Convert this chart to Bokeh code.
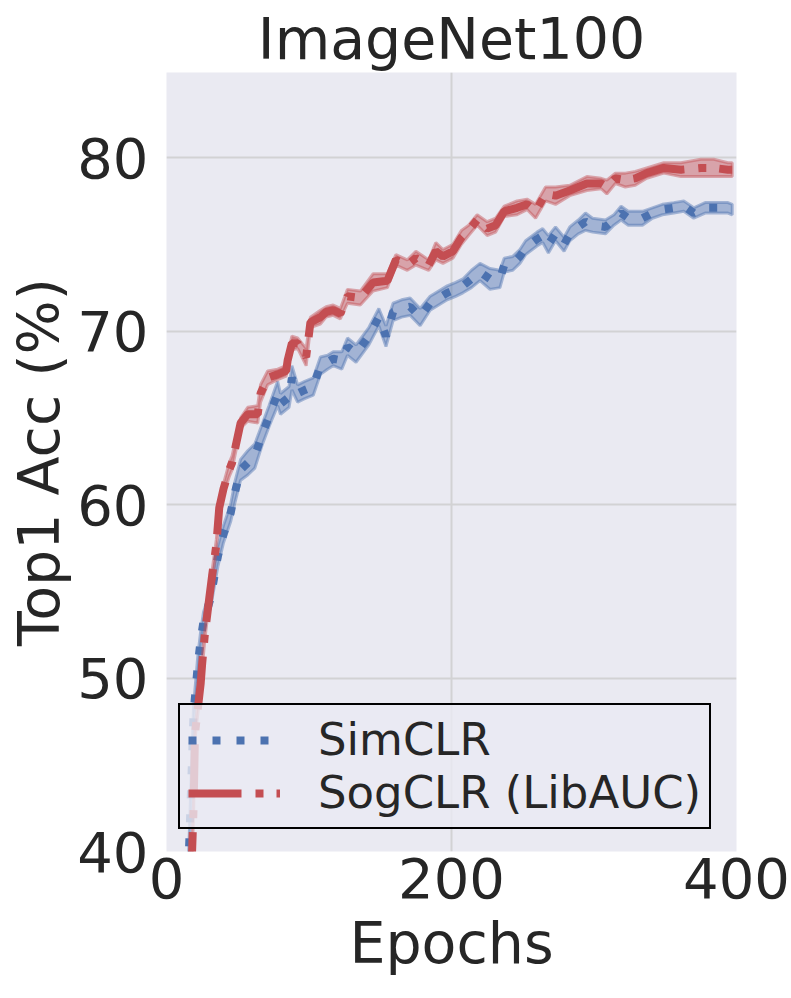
from bokeh.plotting import figure
from bokeh.models import Range1d, FixedTicker, Legend, LegendItem
from bokeh.embed import file_html
from bokeh.resources import INLINE

# ---- data ----
simclr_epochs = [12, 16, 19, 22, 24, 26, 31, 36, 40, 45, 48, 52, 57, 62, 67, 72, 78, 80, 86, 88,
                 92, 97, 103, 108, 113, 117, 123, 127, 133, 142, 149, 154, 159, 165, 171, 178, 185, 191, 197, 203,
                 208, 214, 220, 227, 234, 237, 243, 248, 252, 260, 264, 268, 273, 279, 283, 289, 294, 299, 308, 314,
                 319, 324, 334, 341, 348, 356, 363, 370, 378, 386, 394, 397]
simclr_acc = [32.0, 40.6, 48.0, 50.8, 52.2, 53.3, 54.6, 57.0, 58.3, 59.5,
              60.7, 62.0, 62.4, 62.8, 64.0, 65.1, 66.4, 65.8, 66.2, 67.3,
              66.4, 66.6, 66.8, 68.0, 68.2, 68.4, 68.3, 69.1, 68.7, 69.7,
              70.8, 69.7, 71.1, 71.3, 71.4, 70.8, 71.6, 71.9, 72.2, 72.4,
              72.6, 73.0, 73.4, 73.0, 73.0, 73.8, 73.9, 74.3, 74.8, 75.3,
              75.5, 75.0, 75.6, 75.0, 75.6, 76.0, 76.3, 76.1, 76.0, 76.4,
              76.8, 76.5, 76.5, 76.8, 77.0, 77.1, 77.2, 76.8, 77.1, 77.1,
              77.1, 77.0]
simclr_std = [0.4, 0.4, 0.4, 0.5, 0.5, 0.5, 0.5, 0.6, 0.5, 0.5,
              0.6, 0.6, 0.7, 0.7, 0.6, 0.6, 0.7, 0.6, 0.6, 0.7,
              0.5, 0.5, 0.5, 0.5, 0.4, 0.4, 0.5, 0.5, 0.5, 0.5,
              0.5, 0.6, 0.5, 0.5, 0.5, 0.5, 0.4, 0.4, 0.4, 0.4,
              0.4, 0.5, 0.5, 0.6, 0.5, 0.4, 0.4, 0.4, 0.4, 0.4,
              0.4, 0.5, 0.4, 0.4, 0.4, 0.4, 0.5, 0.4, 0.4, 0.3,
              0.4, 0.4, 0.4, 0.3, 0.3, 0.3, 0.3, 0.3, 0.3, 0.3,
              0.3, 0.3]

sogclr_epochs = [15, 19, 20, 24, 25, 27, 30, 32, 35, 37, 40, 44, 46, 52, 57, 64, 66, 71, 78, 84,
                 85, 88, 92, 98, 101, 108, 112, 117, 122, 127, 136, 145, 155, 161, 169, 175, 184, 189, 194, 201,
                 207, 212, 218, 225, 231, 237, 246, 253, 259, 266, 273, 283, 295, 305, 309, 315, 322, 329, 337, 349,
                 361, 375, 384, 394, 397]
sogclr_acc = [33.0, 42.5, 46.8, 49.7, 50.8, 52.6, 54.6, 55.9, 57.7, 59.8,
              60.9, 62.0, 62.4, 64.7, 65.2, 65.2, 66.4, 67.3, 67.5, 67.7,
              68.3, 69.3, 69.3, 68.5, 70.5, 70.8, 71.1, 71.2, 71.0, 72.0,
              71.9, 72.8, 72.9, 74.1, 73.8, 74.2, 73.8, 74.6, 74.3, 74.6,
              75.4, 75.8, 76.4, 75.9, 76.1, 76.9, 77.1, 77.3, 76.9, 77.9,
              77.8, 78.1, 78.5, 78.5, 78.3, 78.8, 78.7, 78.8, 79.1, 79.4,
              79.3, 79.4, 79.4, 79.3, 79.3]
sogclr_std = [0.3, 0.3, 0.3, 0.3, 0.3, 0.3, 0.3, 0.3, 0.3, 0.3,
              0.3, 0.4, 0.4, 0.3, 0.4, 0.5, 0.5, 0.4, 0.3, 0.3,
              0.4, 0.4, 0.3, 0.5, 0.3, 0.4, 0.3, 0.3, 0.3, 0.4,
              0.4, 0.5, 0.4, 0.3, 0.3, 0.4, 0.3, 0.5, 0.4, 0.4,
              0.4, 0.3, 0.3, 0.4, 0.4, 0.3, 0.4, 0.3, 0.4, 0.4,
              0.5, 0.3, 0.4, 0.3, 0.4, 0.3, 0.4, 0.4, 0.3, 0.3,
              0.4, 0.5, 0.5, 0.4, 0.4]

x_ticks = [0, 200, 400]
y_ticks = [40, 50, 60, 70, 80]
series_names = ["SimCLR", "SogCLR (LibAUC)"]

BLUE = "#4C72B0"
RED = "#C44E52"
TXT = "#262626"
FONT = "DejaVu Sans"

p = figure(width=791, height=998, output_backend="svg", toolbar_location=None,
           x_range=Range1d(0, 400), y_range=Range1d(40, 84.9),
           min_border_left=166, min_border_right=55, min_border_top=72, min_border_bottom=147)

p.background_fill_color = "#EAEAF2"
p.border_fill_color = "white"
p.outline_line_color = None

p.title.text = "ImageNet100"
p.title.text_font = FONT
p.title.text_font_size = "57px"
p.title.text_font_style = "normal"
p.title.text_color = TXT
p.title.align = "center"
p.title.standoff = 2
p.title.offset = 0

for ax in (p.xaxis[0], p.yaxis[0]):
    ax.axis_line_color = None
    ax.major_tick_line_color = None
    ax.minor_tick_line_color = None
    ax.major_label_text_font = FONT
    ax.major_label_text_font_size = "56px"
    ax.major_label_text_color = TXT
    ax.axis_label_text_font = FONT
    ax.axis_label_text_font_size = "57px"
    ax.axis_label_text_font_style = "normal"
    ax.axis_label_text_color = TXT
    ax.major_tick_out = 0
    ax.major_tick_in = 0

p.xaxis.ticker = FixedTicker(ticks=x_ticks)
p.yaxis.ticker = FixedTicker(ticks=y_ticks)
p.xaxis.axis_label = "Epochs"
p.yaxis.axis_label = "Top1 Acc (%)"
p.xaxis.major_label_standoff = 6
p.yaxis.major_label_standoff = 18
p.xaxis.axis_label_standoff = 9
p.yaxis.axis_label_standoff = 2

p.xgrid.grid_line_color = "#d2d2d4"
p.ygrid.grid_line_color = "#d2d2d4"
p.xgrid.grid_line_width = 2
p.ygrid.grid_line_width = 2
p.ygrid.bounds = (41, 90)


def band(epochs, acc, std, color):
    upper = [a + s for a, s in zip(acc, std)]
    lower = [a - s for a, s in zip(acc, std)]
    xs = list(epochs) + list(epochs[::-1])
    ys = upper + lower[::-1]
    p.patch(xs, ys, fill_color=color, fill_alpha=0.45, line_color=color, line_alpha=0.45, line_width=3)


band(simclr_epochs, simclr_acc, simclr_std, BLUE)
blue_line = p.line(simclr_epochs, simclr_acc, line_color=BLUE, line_width=8, line_dash="8 16")
band(sogclr_epochs, sogclr_acc, sogclr_std, RED)
red_line = p.line(sogclr_epochs, sogclr_acc, line_color=RED, line_width=8, line_dash="53 14 8 13")

legend = Legend(items=[LegendItem(label=series_names[0], renderers=[blue_line]),
                       LegendItem(label=series_names[1], renderers=[red_line])],
                location=(12, 22))
legend.border_line_color = "black"
legend.border_line_alpha = 1.0
legend.border_line_width = 2
legend.background_fill_color = "#EAEAF2"
legend.background_fill_alpha = 0.8
legend.label_text_font = FONT
legend.label_text_font_size = "45px"
legend.label_text_color = TXT
legend.glyph_width = 92
legend.glyph_height = 50
legend.label_height = 52
legend.label_standoff = 38
legend.padding = 8
legend.spacing = 0
legend.margin = 0
p.add_layout(legend)

open("out.html", "w").write(file_html(p, INLINE))
